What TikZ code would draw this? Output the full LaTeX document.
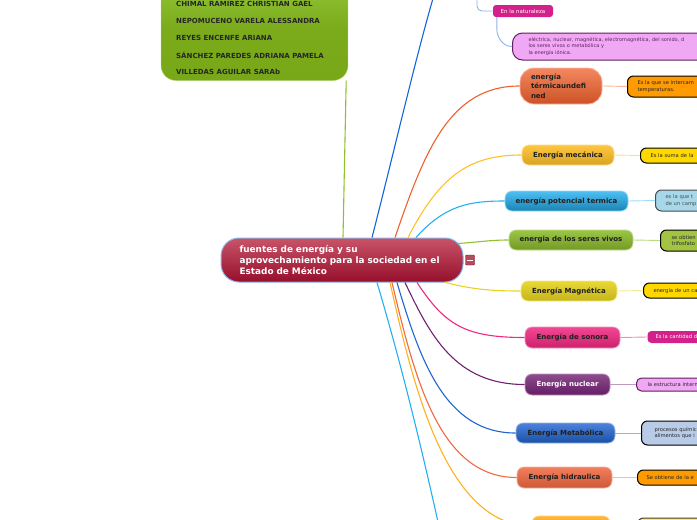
\documentclass[tikz,border=0pt]{standalone}
\usepackage{fontspec}
\setmainfont{DejaVu Sans}
\definecolor{gTop}{HTML}{96C83A}
\definecolor{gBot}{HTML}{78A818}
\definecolor{cenTop}{HTML}{C85468}
\definecolor{cenBot}{HTML}{960F2C}
\definecolor{lTerm}{HTML}{F0602C}
\definecolor{lMec}{HTML}{FFC02A}
\definecolor{lPot}{HTML}{22B0F0}
\definecolor{lSer}{HTML}{90C030}
\definecolor{lMag}{HTML}{E8D420}
\definecolor{lSon}{HTML}{F02880}
\definecolor{lNuc}{HTML}{702070}
\definecolor{lMet}{HTML}{2064D0}
\definecolor{lHid}{HTML}{F06840}
\definecolor{lBot}{HTML}{FFB020}
\definecolor{lUp}{HTML}{1464D8}
\definecolor{lSub}{HTML}{88B4E8}
\definecolor{fOra}{HTML}{FF9A00}
\definecolor{fYel}{HTML}{FFD800}
\definecolor{fSky}{HTML}{A6D8EA}
\definecolor{fOli}{HTML}{A2C442}
\definecolor{fMag}{HTML}{D4208A}
\definecolor{fVio}{HTML}{F0A8F4}
\definecolor{fSte}{HTML}{B8CCE8}
\definecolor{bVio}{HTML}{602060}
\tikzset{
  br/.style 2 args={rounded corners=7pt, top color=#1, bottom color=#2, draw=#1!60!white, line width=0.8pt,
     font=\bfseries\fontsize{7}{8.5}\selectfont, text=black!88, inner sep=0pt},
  info/.style={rounded corners=6pt, anchor=west, font=\fontsize{5.2}{6.4}\selectfont, align=left,
     text width=110pt, draw=black, line width=1pt, text=black!85},
  con/.style={line width=1.1pt},
  link/.style={line width=0.9pt},
  who/.style={anchor=west, font=\bfseries\fontsize{7}{8}\selectfont, text=black!85, inner sep=0pt}
}
\begin{document}
\begin{tikzpicture}[x=1pt,y=-1pt]
\useasboundingbox (0,0) rectangle (697,520);
\clip (0,0) rectangle (697,520);

% team box
\node[rounded corners=15pt, top color=gTop, bottom color=gBot, middle color=gBot!90!gTop, draw=gTop!70!white,
  minimum width=187pt, minimum height=105pt, inner sep=0pt] (team) at (254.5,28) {};
\node[who] (n1) at (176,4) {CHIMAL RAMIREZ CHRISTIAN GAEL};
\node[who] (n2) at (176,21) {NEPOMUCENO VARELA ALESSANDRA};
\node[who] (n3) at (176,38) {REYES ENCENFE ARIANA};
\node[who] (n4) at (176,55) {SÁNCHEZ PAREDES ADRIANA PAMELA};
\node[who] (n5) at (176,72) {VILLEDAS AGUILAR SARAb};

% central
\node[rounded corners=18pt, top color=cenTop, bottom color=cenBot, draw=lSub, line width=1pt,
  minimum width=242pt, minimum height=44pt, text width=205pt, align=left, inner sep=0pt,
  font=\bfseries\fontsize{8.9}{11}\selectfont, text=white] (c) at (342,260)
  {fuentes de energía y su\\aprovechamiento para la sociedad en el\\Estado de México};
\node[draw=cenBot!80!black, fill=cenTop!90!black, minimum width=9pt, minimum height=10pt, inner sep=0pt,
  rounded corners=1pt] (tog) at (470,260) {};
\draw[white, line width=0.8pt] ([xshift=2pt]tog.west) -- ([xshift=-2pt]tog.east);

% top part
\coordinate (upEnd) at (434,-5);
\coordinate (subTop) at (477,-5);
\node[rounded corners=3pt, fill=fMag, minimum width=60pt, minimum height=12pt, inner sep=0pt,
  font=\fontsize{5.5}{6}\selectfont, text=white] (nat) at (523,11) {En la naturaleza};
\node[info, draw=bVio, fill=fVio, rounded corners=10pt, minimum height=27pt, text width=220pt, inner xsep=16pt,
  text=bVio, font=\fontsize{5}{6.4}\selectfont] (pink) at (512,46.5)
  {eléctrica, nuclear, magnética, electromagnética, del sonido, d\\los seres vivos o metabólica y\\la energía iónica.};
\draw[link, lSub, rounded corners=5pt] (subTop) |- (nat.west);
\draw[link, lSub] ([xshift=4pt]nat.south west) -- ++(0,11) to[out=-90,in=180] (pink.west);

% branches
\node[br={lTerm!75!white}{lTerm!85!black}, minimum width=82pt, minimum height=36pt, rounded corners=14pt,
  align=left, text width=60pt, font=\bfseries\fontsize{7}{9.5}\selectfont] (b1) at (561,86) {energía\\térmicaundefi\\ned};
\node[br={lMec!90!white}{lMec!85!black}, minimum width=92pt, minimum height=20pt] (b2) at (568,155) {Energía mecánica};
\node[br={lPot!80!white}{lPot!75!black}, minimum width=123pt, minimum height=20pt] (b3) at (566.5,201) {energía potencial termica};
\node[br={lSer!90!white}{lSer!80!black}, minimum width=124pt, minimum height=20pt] (b4) at (571,240) {energia de los seres vivos};
\node[br={lMag!90!white}{lMag!85!black}, minimum width=96pt, minimum height=20pt] (b5) at (569,291) {Energía Magnética};
\node[br={lSon!85!white}{lSon!85!black}, minimum width=95pt, minimum height=21pt] (b6) at (572.5,337.5) {Energía de sonora};
\node[br={lNuc!80!white}{lNuc!90!black}, minimum width=85pt, minimum height=21pt, text=white] (b7) at (567.5,384.5) {Energía nuclear};
\node[br={lMet!80!white}{lMet!80!black}, minimum width=99pt, minimum height=20pt] (b8) at (565.5,433) {Energía Metabólica};
\node[br={lHid!85!white}{lHid!85!black}, minimum width=95pt, minimum height=21pt] (b9) at (564.5,477.5) {Energía hidraulica};
\node[br={lBot!90!white}{lBot!90!black}, minimum width=78pt, minimum height=20pt] (b10) at (571,526) {};

% info boxes
\node[info, fill=fOra, minimum height=21pt, inner xsep=10pt] (i1) at (627,86.5) {Es la que se intercam\\temperaturas.};
\node[info, fill=fYel, minimum height=15pt, inner xsep=10pt] (i2) at (640,155.5) {Es la suma de la};
\node[info, fill=fSky, draw=black!70, minimum height=21pt, inner xsep=10pt, text=black!70] (i3) at (655,200.5) {es la que t\\de un camp};
\node[info, fill=fOli, minimum height=21pt, inner xsep=11pt] (i4) at (660,240.5) {se obtien\\trifosfato};
\node[info, fill=fYel, minimum height=15pt, inner xsep=10pt] (i5) at (643,290.5) {energía de un ca};
\node[info, fill=fMag, draw=none, minimum height=12pt, inner xsep=8pt, text=white, rounded corners=4pt] (i6) at (647,337) {Es la cantidad d};
\node[info, fill=fVio, draw=bVio, minimum height=13pt, inner xsep=11pt, rounded corners=5pt] (i7) at (636,384.5) {la estructura intern};
\node[info, fill=fSte, minimum height=24pt, inner xsep=13pt] (i8) at (641,433) {procesos químic\\alimentos que i};
\node[info, fill=fOra, minimum height=15pt, inner xsep=9pt] (i9) at (637,477.5) {Se obtiene de la e};
\node[info, fill=fYel!60!white, draw=black!75, minimum height=16pt, inner xsep=9pt] (i10) at (637,526) {};

% connectors center -> branches
\coordinate (tg) at ([xshift=-2pt]team.south east);
\draw[con, lSer] (tg) -- ([xshift=1pt]c.north);
\draw[con, lUp] ([xshift=30pt]c.north) .. controls (392,160) and (415,60) .. (upEnd);
\draw[con, lTerm] ([xshift=53pt]c.north) .. controls (425,150) and (450,86) .. (b1.west);
\draw[con, lMec] ([xshift=66pt]c.north) .. controls (440,175) and (470,155) .. (b2.west);
\draw[con, lPot] ([xshift=74pt]c.north) .. controls (445,205) and (470,201) .. (b3.west);
\draw[con, lSer] ([xshift=116pt,yshift=-6pt]c.north) .. controls (480,242) and (490,240) .. (b4.west);
\draw[con, lMag] ([xshift=-18pt]c.south east) .. controls (475,290) and (495,291) .. (b5.west);
\draw[con, lSon] ([xshift=75pt]c.south) .. controls (445,325) and (465,337.5) .. (b6.west);
\draw[con, lNuc] ([xshift=63pt]c.south) .. controls (430,335) and (455,384.5) .. (b7.west);
\draw[con, lMet] ([xshift=55pt]c.south) .. controls (420,360) and (445,433) .. (b8.west);
\draw[con, lHid] ([xshift=50pt]c.south) .. controls (415,380) and (440,477.5) .. (b9.west);
\draw[con, lBot] ([xshift=48pt]c.south) .. controls (412,380) and (445,526) .. (b10.west);
\coordinate (downEnd) at (442,540);
\draw[con, lPot] ([xshift=35pt]c.south) .. controls (400,360) and (420,440) .. (downEnd);

% links branch -> info
\draw[link, lTerm!45!white] (b1.east) -- (i1.west);
\draw[link, lMec!55!white] (b2.east) -- (i2.west);
\draw[link, lPot!45!white] (b3.east) -- (i3.west);
\draw[link, lSer!60!white] (b4.east) -- (i4.west);
\draw[link, lMag!50!white] (b5.east) -- (i5.west);
\draw[link, lSon!55!white] (b6.east) -- (i6.west);
\draw[link, lNuc!45!white] (b7.east) -- (i7.west);
\draw[link, lMet!50!white] (b8.east) -- (i8.west);
\draw[link, lHid!45!white] (b9.east) -- (i9.west);
\draw[link, lBot!55!white] (b10.east) -- (i10.west);
\end{tikzpicture}
\end{document}
